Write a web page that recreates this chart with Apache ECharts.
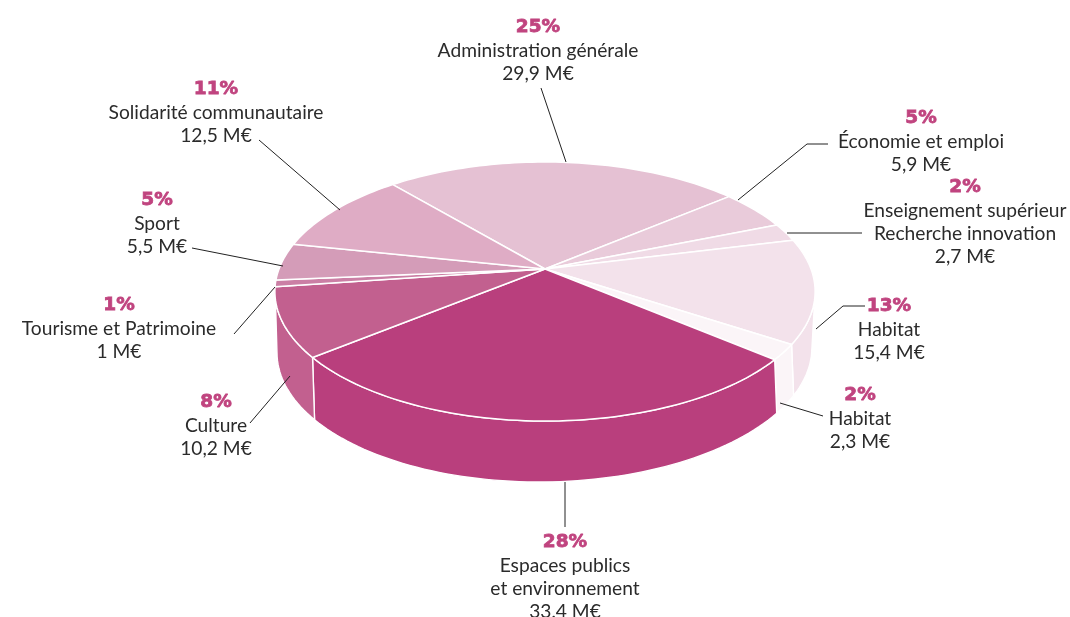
<!DOCTYPE html>
<html><head><meta charset="utf-8">
<style>html,body{margin:0;padding:0;background:#fff}#c{width:1070px;height:617px}</style>
<script src="https://cdn.jsdelivr.net/npm/echarts@6/dist/echarts.min.js"></script>
</head><body><div id="c"></div>
<script>
// ---- data ----
const categories = ['Administration générale','Économie et emploi','Enseignement supérieur\nRecherche innovation','Habitat','Habitat','Espaces publics\net environnement','Culture','Tourisme et Patrimoine','Sport','Solidarité communautaire'];
const amounts = [29.9,5.9,2.7,15.4,2.3,33.4,10.2,1,5.5,12.5];
const amountLabels = ['29,9 M€','5,9 M€','2,7 M€','15,4 M€','2,3 M€','33,4 M€','10,2 M€','1 M€','5,5 M€','12,5 M€'];
const percentLabels = ['25%','5%','2%','13%','2%','28%','8%','1%','5%','11%'];
// ---- styles / layout ----
const sliceColors = ['#e5c1d3','#e9cbda','#f0dbe6','#f3e2eb','#fbf5f8','#b93f7d','#c2608f','#cb7fa5','#d49cb8','#dfacc5'];
const labelCenterX = [538,921,965,889,860,565,216,119,157,216];
const labelTopY = [27,118,187,306,395,542,402,305,200,89];
const leaders = [
 [[541,88],[566,162]],
 [[828,144],[807,144],[738,200]],
 [[862,233],[787,233]],
 [[865,306],[843,306],[816,329]],
 [[780,403],[823,416]],
 [[565,482],[565,527]],
 [[290,376],[250,423]],
 [[275,287],[234,334]],
 [[192,248],[283,266]],
 [[259,140],[340,210]]
];
const startAngle = 319.6, lineGap = 23.2;
const PIE = {cx:545, cy:269, R:266, S:125.6, k:-0.174};
const BASE = {cx:544.5, cy:350, rx:267.5, ry:132, shift:2, tilt:-0.01};
const WALL_FROM = 100, WALL_TO = 262;
const total = amounts.reduce((a,b)=>a+b,0);

function rim(deg){
  const t = deg*Math.PI/180, u = Math.sin(t), v = -Math.cos(t), w = 1+PIE.k*v;
  return [PIE.cx+PIE.R*u/w, PIE.cy+PIE.S*v/w];
}
function base(p){
  const dx = Math.max(-BASE.rx,Math.min(BASE.rx,p[0]+BASE.shift-BASE.cx));
  return [BASE.cx+dx, BASE.cy+BASE.ry*Math.sqrt(1-dx*dx/(BASE.rx*BASE.rx))+BASE.tilt*dx];
}
function arc(a,b){
  const pts=[], n=Math.max(2,Math.ceil((b-a)/1.5));
  for(let i=0;i<=n;i++) pts.push(rim(a+(b-a)*i/n));
  return pts;
}
function sweepOf(index){
  let a = startAngle;
  for(let i=0;i<index;i++) a += amounts[i]/total*360;
  return [a, a+amounts[index]/total*360];
}
function renderSlice(params, api){
  const i = params.dataIndex;
  const [a,b] = sweepOf(i);
  void api.value(0);
  const children = [];
  // side wall: the part of this slice on the visible front of the disc
  [0,360].forEach(off=>{
    const wa = Math.max(a-off,WALL_FROM), wb = Math.min(b-off,WALL_TO);
    if(wb>wa){
      const top = arc(wa,wb);
      const bottom = top.map(base).reverse();
      children.push({type:'polygon',shape:{points:top.concat(bottom)},
        style:{fill:sliceColors[i],stroke:'#fff',lineWidth:1.4,lineJoin:'round'}});
    }
  });
  children.push({type:'polygon',shape:{points:[[PIE.cx,PIE.cy]].concat(arc(a,b))},
    style:{fill:sliceColors[i],stroke:'#fff',lineWidth:1.5,lineJoin:'round'}});
  return {type:'group',children};
}
function renderLabel(params, api){
  const i = params.dataIndex, x = labelCenterX[i];
  let y = labelTopY[i]+0.5;
  const children = [{type:'polyline',shape:{points:leaders[i]},style:{fill:null,stroke:'#222',lineWidth:1}}];
  children.push({type:'text',style:{text:percentLabels[i],x,y,align:'center',verticalAlign:'middle',
    font:'700 18.5px "DejaVu Sans", Lato, sans-serif',fill:'#c0447f',stroke:'#c0447f',lineWidth:0.8}});
  categories[i].split('\n').concat(amountLabels[i]).forEach(line=>{
    y += lineGap;
    children.push({type:'text',style:{text:line,x,y,align:'center',verticalAlign:'middle',
      font:'400 19.2px Lato, "Open Sans", sans-serif',fill:'#2b2b2b'}});
  });
  return {type:'group',children};
}
const rows = categories.map((c,i)=>[amounts[i],c.replace('\n',' ')]);
const chart = echarts.init(document.getElementById('c'),null,{renderer:'canvas'});
chart.setOption({
  animation:false,
  backgroundColor:'#fff',
  series:[
    {type:'custom',coordinateSystem:'none',data:rows,renderItem:renderSlice,silent:true,z:2},
    {type:'custom',coordinateSystem:'none',data:rows,renderItem:renderLabel,silent:true,z:3}
  ]
});
</script></body></html>
